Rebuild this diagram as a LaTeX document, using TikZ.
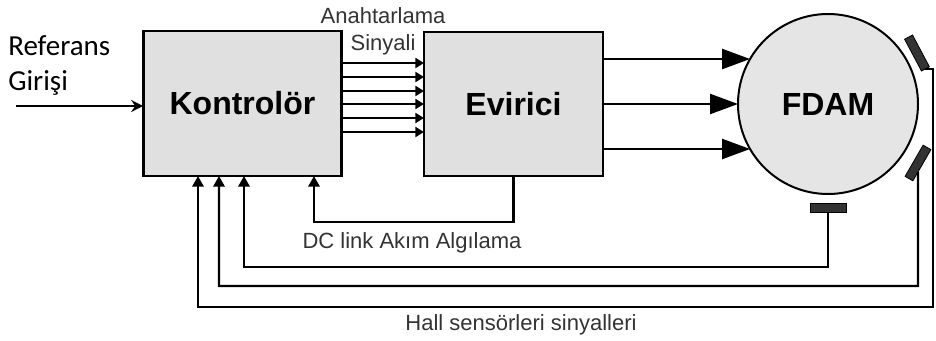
\documentclass[tikz,border=0pt]{standalone}
\usepackage{fontspec}
\setmainfont{Liberation Sans}
\newfontfamily\calibri{Carlito}
\usetikzlibrary{arrows.meta}

\begin{document}
\begin{tikzpicture}[x=0.75pt,y=-0.75pt,
  block/.style={draw,line width=2.2pt,fill=black!12,inner sep=0pt,outer sep=0pt,font=\bfseries\fontsize{24}{28}\selectfont},
  motor/.style={circle,draw,line width=1.5pt,fill=black!10,minimum size=135pt,inner sep=0pt,outer sep=0pt,font=\bfseries\fontsize{24}{28}\selectfont},
  hall/.style={draw,line width=0.6pt,fill=black!80,minimum width=27pt,minimum height=6.75pt,inner sep=0pt,outer sep=0pt},
  lbl/.style={inner sep=0pt,text=black!80,font=\fontsize{16.5}{20.25}\selectfont},
  sig/.style={line width=2pt,-{Triangle[length=6.5pt,width=7.5pt]}},
  outarrow/.style={line width=1.8pt,-{Triangle[length=21pt,width=15pt]}},
  fb/.style={line width=1.8pt,-{Triangle[length=8pt,width=8.5pt]}},
  refarrow/.style={line width=2.2pt,-{Stealth[length=9pt,width=9pt,inset=3pt]}}]
\useasboundingbox (0,0) rectangle (936,340);
% blocks
\node[block,minimum width=149pt,minimum height=108.75pt] (ctrl) at (242.5,103.5) {Kontrolör};
\node[block,minimum width=134.25pt,minimum height=108pt] (inv) at (513.5,104) {Evirici};
\node[motor] (fdam) at (828,104) {FDAM};
% Hall sensors
\node[hall,rotate=-62] (hallA) at (917,53) {};
\node[hall,rotate=60] (hallB) at (918,163) {};
\node[hall] (hallC) at (828,208) {};
% reference input
\node[anchor=north west,align=left,inner sep=0pt,font=\calibri\fontsize{21.75}{26.25}\selectfont] (refin) at (8,35) {Referans\\Girişi};
\coordinate (refstart) at (16,106);
\draw[refarrow] (refstart) -- (refstart -| ctrl.west);
% switching signals
\foreach \y in {63,77,91,104,118,132}
  \draw[sig] (ctrl.east |- 0,\y) -- (inv.west |- 0,\y);
\node[lbl,anchor=north,align=center] (sw) at (383,7) {Anahtarlama\\Sinyali};
% inverter outputs
\draw[outarrow] (inv.east |- fdam.150) -- (fdam.150);
\draw[outarrow] (inv.east |- fdam.west) -- (fdam.west);
\draw[outarrow] (inv.east |- fdam.210) -- (fdam.210);
% DC link current feedback
\draw[fb] (inv.south) -- ++(0,46) -| (ctrl.south -| 314,0);
\node[lbl,anchor=base] (dc) at (412,248) {DC link Akım Algılama};
% Hall feedback
\draw[fb] (hallC) -- (hallC |- 0,267) -| (ctrl.south -| 244,0);
\draw[fb] (hallB) -- (hallB |- 0,286) -| (ctrl.south -| 219,0);
\draw[fb] (hallA.east) -| (933,307) -| (ctrl.south -| 198,0);
\node[lbl,anchor=base] (hallsig) at (521,330) {Hall sensörleri sinyalleri};
\end{tikzpicture}
\end{document}
